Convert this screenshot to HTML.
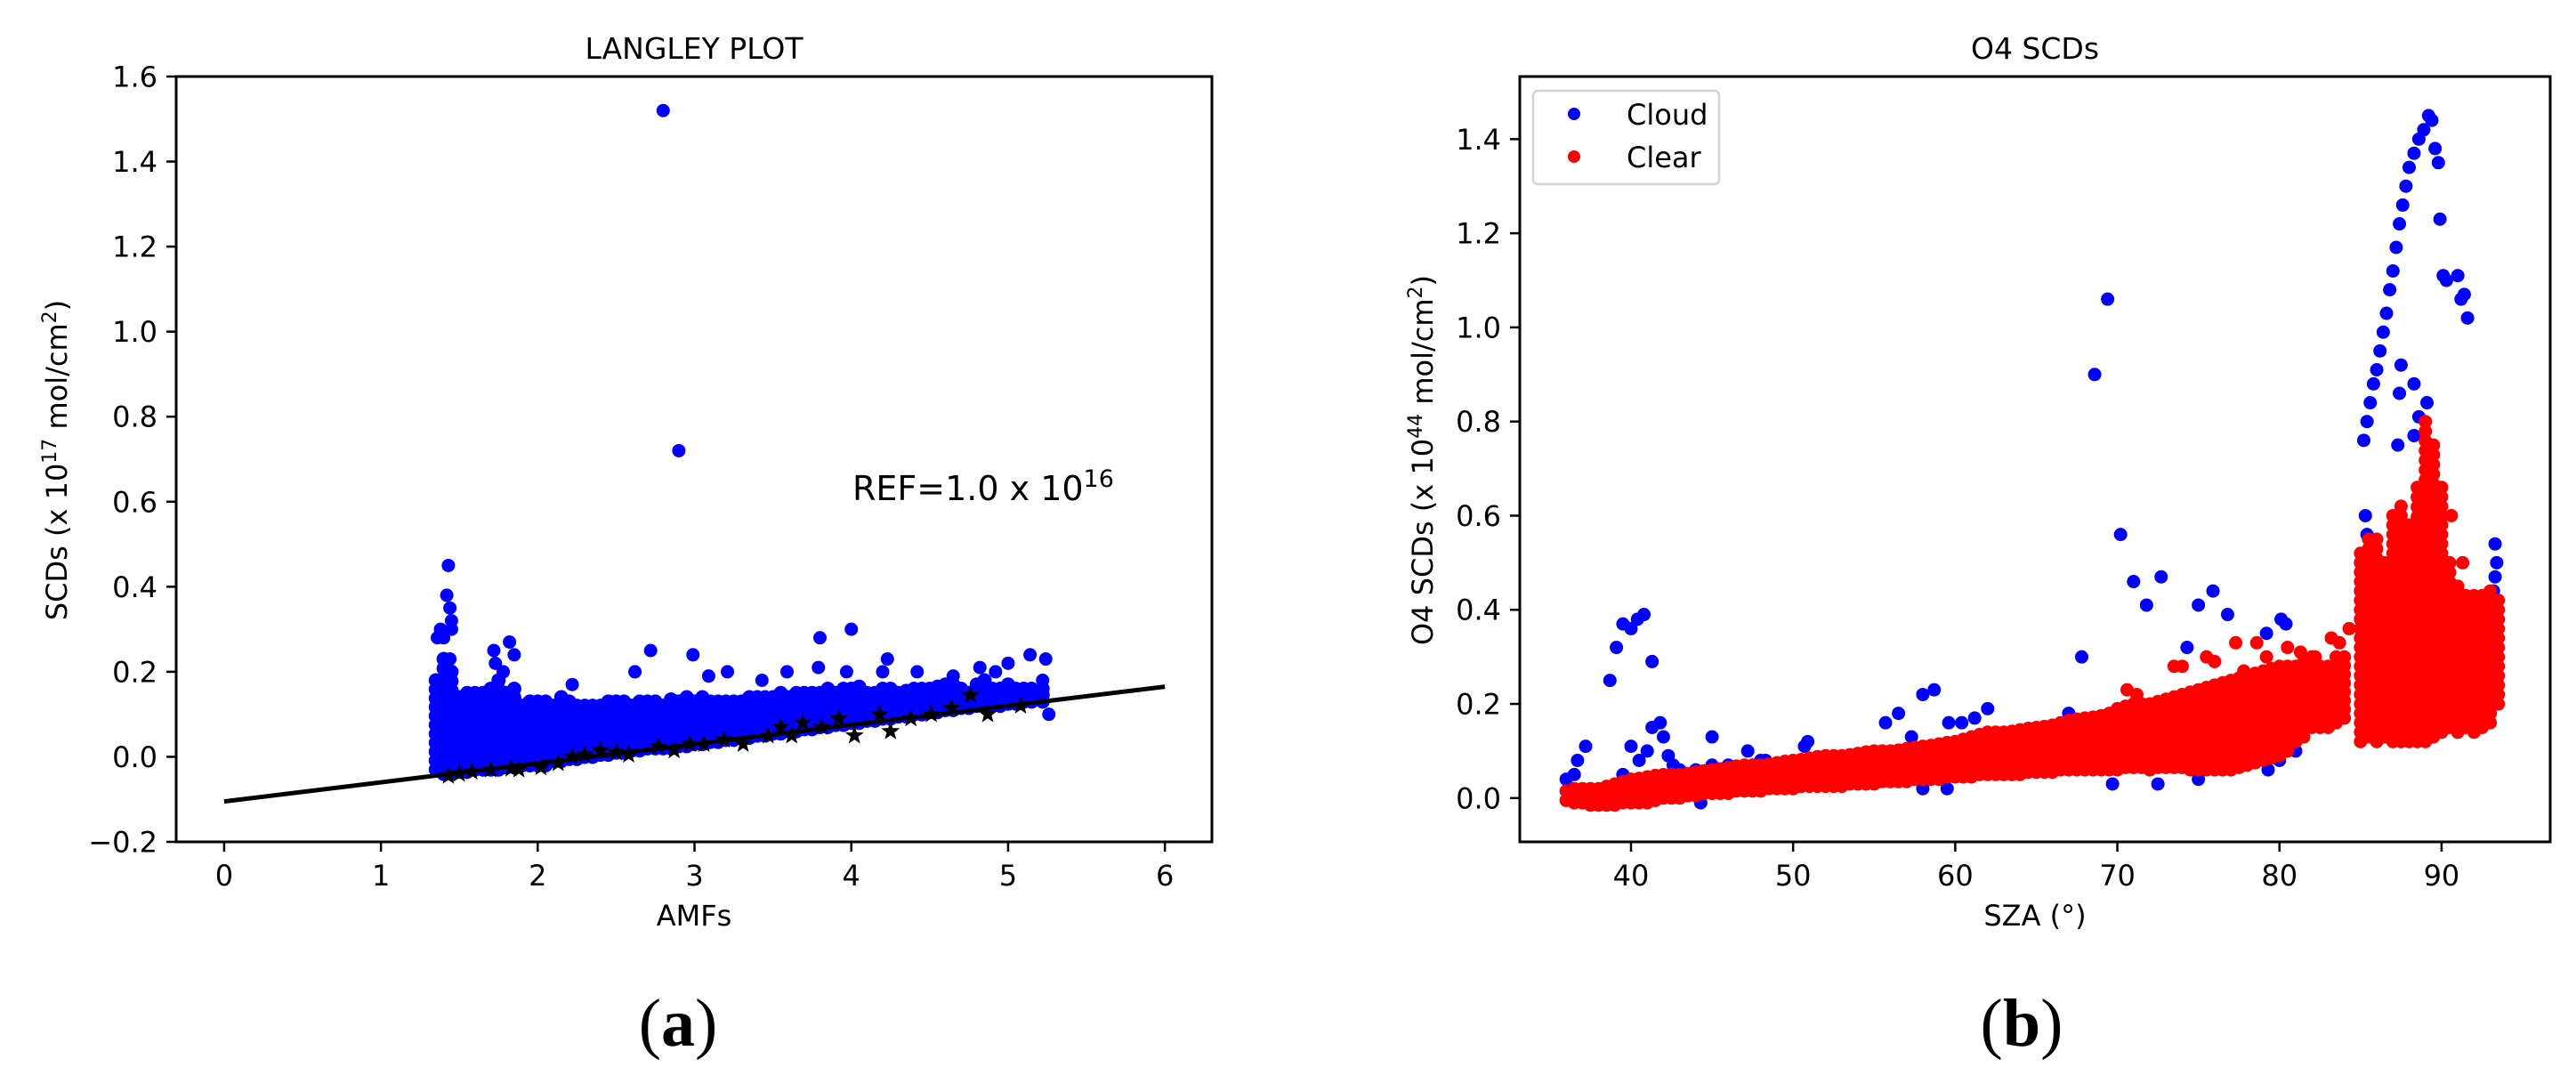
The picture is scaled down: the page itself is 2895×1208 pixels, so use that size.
<!DOCTYPE html>
<html><head><meta charset="utf-8"><style>
html,body{margin:0;padding:0;background:#fff;}
svg text{font-family:"DejaVu Sans","Liberation Sans",sans-serif;}
</style></head><body>
<svg id="fig" width="2895" height="1208" viewBox="0 0 2895 1208" xmlns="http://www.w3.org/2000/svg" style="position:absolute;left:0;top:0">
<rect width="2895" height="1208" fill="#fff"/>
<g id="pa"></g>
<g id="pb"></g>
</svg>
<script>
// ---------- Panel (a) data ----------
const aXTicks=[0,1,2,3,4,5,6];
const aYTicks=[-0.2,0.0,0.2,0.4,0.6,0.8,1.0,1.2,1.4,1.6];
const aYTickLabels=["\u22120.2","0.0","0.2","0.4","0.6","0.8","1.0","1.2","1.4","1.6"];
const aFitX=[0,6];
const aFitY=[-0.105,0.165];
// dense band columns: amf, lowest scd, highest scd
const aBandX=[1.35,1.40,1.45,1.55,1.65,1.75,1.85,1.95,2.05,2.15,2.25,2.35,2.45,2.55,2.65,2.75,2.85,2.95,3.05,3.15,3.25,3.35,3.45,3.55,3.65,3.75,3.85,3.95,4.05,4.15,4.25,4.35,4.45,4.55,4.65,4.75,4.85,4.95,5.05,5.15,5.22,1.5,1.6,1.7,1.8,1.9,2.0,2.1,2.2,2.3,2.4,2.5,2.6,2.7,2.8,2.9,3.0,3.1,3.2,3.3,3.4,3.5,3.6,3.7,3.8,3.9,4.0,4.1,4.2,4.3,4.4,4.5,4.6,4.7,4.8,4.9,5.0,5.1];
const aBandLo=[-0.03,-0.04,-0.04,-0.035,-0.03,-0.03,-0.025,-0.02,-0.02,-0.01,-0.005,0,0.005,0.01,0.015,0.02,0.02,0.025,0.03,0.035,0.04,0.045,0.05,0.055,0.06,0.065,0.07,0.075,0.08,0.085,0.09,0.095,0.1,0.105,0.11,0.115,0.12,0.12,0.125,0.13,0.13,-0.035,-0.03,-0.03,-0.025,-0.02,-0.02,-0.01,-0.005,0,0.005,0.01,0.015,0.02,0.02,0.025,0.03,0.035,0.04,0.045,0.05,0.055,0.06,0.065,0.07,0.075,0.08,0.085,0.09,0.095,0.1,0.105,0.11,0.115,0.12,0.12,0.125,0.13];
const aBandHi=[0.18,0.23,0.2,0.15,0.15,0.18,0.16,0.13,0.13,0.14,0.12,0.12,0.13,0.13,0.13,0.13,0.135,0.14,0.14,0.13,0.13,0.14,0.14,0.15,0.15,0.15,0.16,0.16,0.165,0.15,0.16,0.155,0.16,0.165,0.17,0.15,0.18,0.16,0.16,0.16,0.16,0.14,0.15,0.16,0.15,0.12,0.13,0.12,0.13,0.12,0.12,0.13,0.12,0.13,0.12,0.13,0.13,0.13,0.13,0.13,0.14,0.14,0.14,0.15,0.15,0.15,0.16,0.15,0.16,0.15,0.16,0.16,0.17,0.16,0.17,0.16,0.17,0.16];
const aOutX=[2.8,2.9,1.43,1.42,1.44,1.45,1.45,1.40,1.44,1.72,1.73,1.82,1.85,1.78,2.22,2.62,2.72,2.99,3.09,3.21,3.43,3.59,3.8,3.79,4.0,3.97,4.23,4.2,4.42,4.65,4.82,5.0,5.14,5.24,5.22,5.26,4.92,1.36,1.38];
const aOutY=[1.52,0.72,0.45,0.38,0.35,0.32,0.30,0.28,0.23,0.25,0.22,0.27,0.24,0.2,0.17,0.2,0.25,0.24,0.19,0.2,0.18,0.2,0.28,0.21,0.3,0.2,0.23,0.2,0.2,0.19,0.21,0.22,0.24,0.23,0.18,0.1,0.2,0.28,0.3];
const aStarX=[1.43,1.5,1.58,1.7,1.83,1.88,2.02,2.13,2.22,2.3,2.4,2.5,2.58,2.77,2.87,2.97,3.06,3.19,3.31,3.47,3.55,3.62,3.69,3.81,3.92,4.02,4.18,4.25,4.38,4.51,4.64,4.76,4.87,5.08];
const aStarY=[-0.045,-0.04,-0.035,-0.03,-0.028,-0.03,-0.025,-0.015,0.0,0.005,0.015,0.01,0.005,0.025,0.015,0.03,0.03,0.04,0.03,0.05,0.07,0.05,0.08,0.07,0.09,0.05,0.1,0.06,0.09,0.1,0.115,0.145,0.1,0.12];

// ---------- Panel (b) data ----------
const bXTicks=[40,50,60,70,80,90];
const bYTicks=[0.0,0.2,0.4,0.6,0.8,1.0,1.2,1.4];
// clear-sky dense band: sza column, lowest, highest
const bRedX=[36,36.5,37,37.5,38,38.5,39,39.5,40,40.5,41,41.5,42,42.5,43,43.5,44,44.5,45,45.5,46,46.5,47,47.5,48,48.5,49,49.5,50,50.5,51,51.5,52,52.5,53,53.5,54,54.5,55,55.5,56,56.5,57,57.5,58,58.5,59,59.5,60,60.5,61,61.5,62,62.5,63,63.5,64,64.5,65,65.5,66,66.5,67,67.5,68,68.5,69,69.5,70,70.5,71,71.5,72,72.5,73,73.5,74,74.5,75,75.5,76,76.5,77,77.5,78,78.5,79,79.5,80,80.5,81,81.5,82,82.5,83,83.5,84,
85,85.5,86,86.5,87,87.5,88,88.5,89,89.5,90,90.5,91,91.5,92,92.5,93,93.5];
const bRedLo=[-0.005,-0.01,-0.01,-0.015,-0.015,-0.015,-0.015,-0.01,-0.01,-0.01,-0.01,-0.005,0,0,0,0.005,0.005,0.01,0.01,0.01,0.01,0.015,0.015,0.015,0.015,0.02,0.02,0.02,0.02,0.025,0.025,0.025,0.025,0.025,0.025,0.03,0.03,0.03,0.03,0.035,0.035,0.035,0.035,0.04,0.04,0.04,0.04,0.045,0.045,0.045,0.045,0.05,0.05,0.05,0.05,0.05,0.05,0.055,0.055,0.055,0.055,0.06,0.06,0.06,0.06,0.06,0.06,0.06,0.06,0.065,0.065,0.065,0.06,0.065,0.065,0.065,0.065,0.06,0.06,0.06,0.06,0.06,0.06,0.065,0.07,0.075,0.08,0.085,0.09,0.1,0.12,0.13,0.15,0.15,0.15,0.16,0.17,
0.12,0.13,0.12,0.13,0.12,0.12,0.12,0.12,0.12,0.13,0.14,0.15,0.14,0.15,0.14,0.15,0.16,0.2];
const bRedHi=[0.015,0.02,0.02,0.02,0.02,0.025,0.03,0.035,0.04,0.042,0.045,0.048,0.05,0.05,0.05,0.052,0.055,0.058,0.06,0.062,0.065,0.068,0.07,0.07,0.07,0.072,0.075,0.078,0.08,0.082,0.085,0.088,0.09,0.09,0.09,0.092,0.095,0.098,0.1,0.1,0.1,0.102,0.105,0.108,0.11,0.112,0.115,0.118,0.12,0.125,0.13,0.135,0.14,0.14,0.14,0.142,0.145,0.148,0.15,0.152,0.155,0.16,0.165,0.168,0.17,0.172,0.175,0.18,0.19,0.195,0.2,0.2,0.2,0.205,0.21,0.215,0.22,0.225,0.23,0.235,0.24,0.245,0.25,0.255,0.26,0.265,0.27,0.275,0.28,0.28,0.28,0.29,0.3,0.28,0.28,0.3,0.3,
0.52,0.55,0.55,0.5,0.6,0.62,0.58,0.66,0.8,0.75,0.66,0.5,0.45,0.43,0.43,0.43,0.44,0.42];
const bRedOutX=[70.6,71.2,73.5,74,75.5,76,77.3,77.8,78.6,79.2,80.5,81.3,82.2,82.8,83.2,83.7,84.3,90.6,91.3];
const bRedOutY=[0.23,0.22,0.28,0.28,0.3,0.29,0.33,0.27,0.33,0.3,0.32,0.31,0.3,0.26,0.34,0.33,0.36,0.6,0.5];
const bBlueX=[36,36.5,36.7,37.2,38.7,39.1,39.5,40,40.4,40.8,41.3,40,41,41.3,41.8,42,42.3,42.6,45,44,45,47.2,48.3,49,50.7,50.9,51.5,52.3,55.7,56.5,57.3,58,58.7,59.6,60.4,61.2,62,67,67.8,68.6,69.4,70.2,71,71.8,72.7,74.3,75,75.9,76.8,79.2,80.1,80.4,81,80,79.3,75,72.5,69.7,58,59.5,44.3,39.5,40.5,43,46,48,53,
85.2,85.4,85.6,85.8,86,86.2,86.4,86.6,86.8,87,87.2,87.4,87.6,87.8,88,88.3,88.6,88.9,89.2,89.4,89.6,89.8,89.9,90.1,90.3,91,91.2,91.4,91.6,85.3,85.4,87.5,87.4,88.3,88.6,89.1,88.3,87.3,93.3,93.4,93.3,93.2,93];
const bBlueY=[0.04,0.05,0.08,0.11,0.25,0.32,0.37,0.36,0.38,0.39,0.29,0.11,0.1,0.15,0.16,0.13,0.09,0.07,0.13,0.06,0.07,0.1,0.08,0.07,0.11,0.12,0.08,0.08,0.16,0.18,0.13,0.22,0.23,0.16,0.16,0.17,0.19,0.18,0.3,0.9,1.06,0.56,0.46,0.41,0.47,0.32,0.41,0.44,0.39,0.35,0.38,0.37,0.1,0.08,0.06,0.04,0.03,0.03,0.02,0.02,-0.01,0.05,0.08,0.06,0.07,0.08,0.07,
0.76,0.8,0.84,0.88,0.91,0.95,0.99,1.03,1.08,1.12,1.17,1.22,1.26,1.3,1.34,1.37,1.4,1.42,1.45,1.44,1.38,1.35,1.23,1.11,1.1,1.11,1.06,1.07,1.02,0.6,0.56,0.92,0.86,0.88,0.81,0.84,0.77,0.75,0.54,0.5,0.47,0.44,0.18];

// ---------- Rendering ----------
const NS="http://www.w3.org/2000/svg";
function mk(parent,tag,attrs){const e=document.createElementNS(NS,tag);for(const k in attrs)e.setAttribute(k,attrs[k]);parent.appendChild(e);return e;}

const A={l:198,r:1362,t:86,b:946,x0:-0.306,x1:6.3,y0:-0.2,y1:1.6};
const B={l:1708,r:2866,t:86,b:946,x0:33.14,x1:96.7,y0:-0.093,y1:1.533};
function sx(P,v){return P.l+(v-P.x0)/(P.x1-P.x0)*(P.r-P.l);}
function sy(P,v){return P.b-(v-P.y0)/(P.y1-P.y0)*(P.b-P.t);}

function dot(g,P,x,y,color,name,r){
  const c=mk(g,'circle',{cx:sx(P,x),cy:sy(P,y),r:r||7.5,fill:color});
  
  
}
function column(g,P,x,lo,hi,color,name,r){
  const y1=sy(P,lo),y2=sy(P,hi);const n=Math.max(1,Math.ceil((y1-y2)/11));
  for(let k=0;k<=n;k++){const c=mk(g,'circle',{cx:sx(P,x),cy:y1+(y2-y1)*k/n,r:r,fill:color});
    
    }
}
function star(g,P,x,y){
  const cx=sx(P,x),cy=sy(P,y);let pts=[];
  for(let i=0;i<10;i++){const r=i%2?4.5:11;const a=-Math.PI/2+i*Math.PI/5;pts.push((cx+r*Math.cos(a)).toFixed(1)+','+(cy+r*Math.sin(a)).toFixed(1));}
  const p=mk(g,'polygon',{points:pts.join(' '),fill:'#000'});
  
  
}
function frame(g,P,xt,xl,yt,yl){
  const f=mk(g,'rect',{x:P.l,y:P.t,width:P.r-P.l,height:P.b-P.t,fill:'none',stroke:'#000','stroke-width':3});
  
  
  xt.forEach((v,i)=>{const x=sx(P,v);
    mk(g,'line',{x1:x,x2:x,y1:P.b,y2:P.b+11,stroke:'#000','stroke-width':2.5});
    const t=mk(g,'text',{x:x,y:P.b+49,'font-size':32,'text-anchor':'middle'});t.textContent=xl[i];
    
    
  });
  yt.forEach((v,i)=>{const y=sy(P,v);
    mk(g,'line',{x1:P.l-11,x2:P.l,y1:y,y2:y,stroke:'#000','stroke-width':2.5});
    const t=mk(g,'text',{x:P.l-21,y:y+11.5,'font-size':32,'text-anchor':'end'});t.textContent=yl[i];
    
    
  });
}

// Panel A
const ga=document.getElementById('pa');
aBandX.forEach((x,i)=>column(ga,A,x,aBandLo[i],aBandHi[i],'#0000ff','scd-point',8));
aOutX.forEach((x,i)=>dot(ga,A,x,aOutY[i],'#0000ff','scd-point'));
const fit=mk(ga,'line',{x1:sx(A,aFitX[0]),y1:sy(A,aFitY[0]),x2:sx(A,aFitX[1]),y2:sy(A,aFitY[1]),stroke:'#000','stroke-width':5});


aStarX.forEach((x,i)=>star(ga,A,x,aStarY[i]));
frame(ga,A,aXTicks,aXTicks.map(String),aYTicks,aYTickLabels);

// Panel B
const gb=document.getElementById('pb');
bBlueX.forEach((x,i)=>dot(gb,B,x,bBlueY[i],'#0000ff','cloud-point'));
bRedX.forEach((x,i)=>column(gb,B,x,bRedLo[i],bRedHi[i],'#ff0000','clear-point',7.5));
bRedOutX.forEach((x,i)=>dot(gb,B,x,bRedOutY[i],'#ff0000','clear-point'));
frame(gb,B,bXTicks,bXTicks.map(String),bYTicks,bYTicks.map(v=>v.toFixed(1)));
</script>
<svg style="position:absolute;left:0;top:0" width="2895" height="1208">
<text x="780" y="66" font-size="33" text-anchor="middle" style="font-family:'DejaVu Sans',sans-serif">LANGLEY PLOT</text>
<text x="780" y="1040" font-size="32" text-anchor="middle" style="font-family:'DejaVu Sans',sans-serif">AMFs</text>
<text transform="translate(75,517) rotate(-90)" font-size="32" text-anchor="middle" style="font-family:'DejaVu Sans',sans-serif">SCDs (x 10<tspan dy="-12" font-size="22">17</tspan><tspan dy="12"> mol/cm</tspan><tspan dy="-12" font-size="22">2</tspan><tspan dy="12">)</tspan></text>
<text x="958" y="562" font-size="38" style="font-family:'DejaVu Sans',sans-serif">REF=1.0 x 10<tspan dy="-15" font-size="27">16</tspan></text>
<text x="762" y="1175" font-size="76" text-anchor="middle" style="font-family:'Liberation Serif',serif">(<tspan font-weight="bold">a</tspan>)</text>

<text x="2287" y="66" font-size="33" text-anchor="middle" style="font-family:'DejaVu Sans',sans-serif">O4 SCDs</text>
<text x="2287" y="1040" font-size="32" text-anchor="middle" style="font-family:'DejaVu Sans',sans-serif">SZA (°)</text>
<text transform="translate(1610,517) rotate(-90)" font-size="32" text-anchor="middle" style="font-family:'DejaVu Sans',sans-serif">O4 SCDs (x 10<tspan dy="-12" font-size="22">44</tspan><tspan dy="12"> mol/cm</tspan><tspan dy="-12" font-size="22">2</tspan><tspan dy="12">)</tspan></text>
<text x="2272" y="1175" font-size="76" text-anchor="middle" style="font-family:'Liberation Serif',serif">(<tspan font-weight="bold">b</tspan>)</text>

<g>
<rect x="1723" y="102" width="209" height="105" rx="5" fill="#fff" fill-opacity="0.85" stroke="#d4d4d4" stroke-width="2.5"/>
<circle cx="1769" cy="128" r="7" fill="#0000ff"/>
<text x="1828" y="140" font-size="32" style="font-family:'DejaVu Sans',sans-serif">Cloud</text>
<circle cx="1769" cy="176" r="7" fill="#ff0000"/>
<text x="1828" y="188" font-size="32" style="font-family:'DejaVu Sans',sans-serif">Clear</text>
</g>
</svg>
</body></html>
